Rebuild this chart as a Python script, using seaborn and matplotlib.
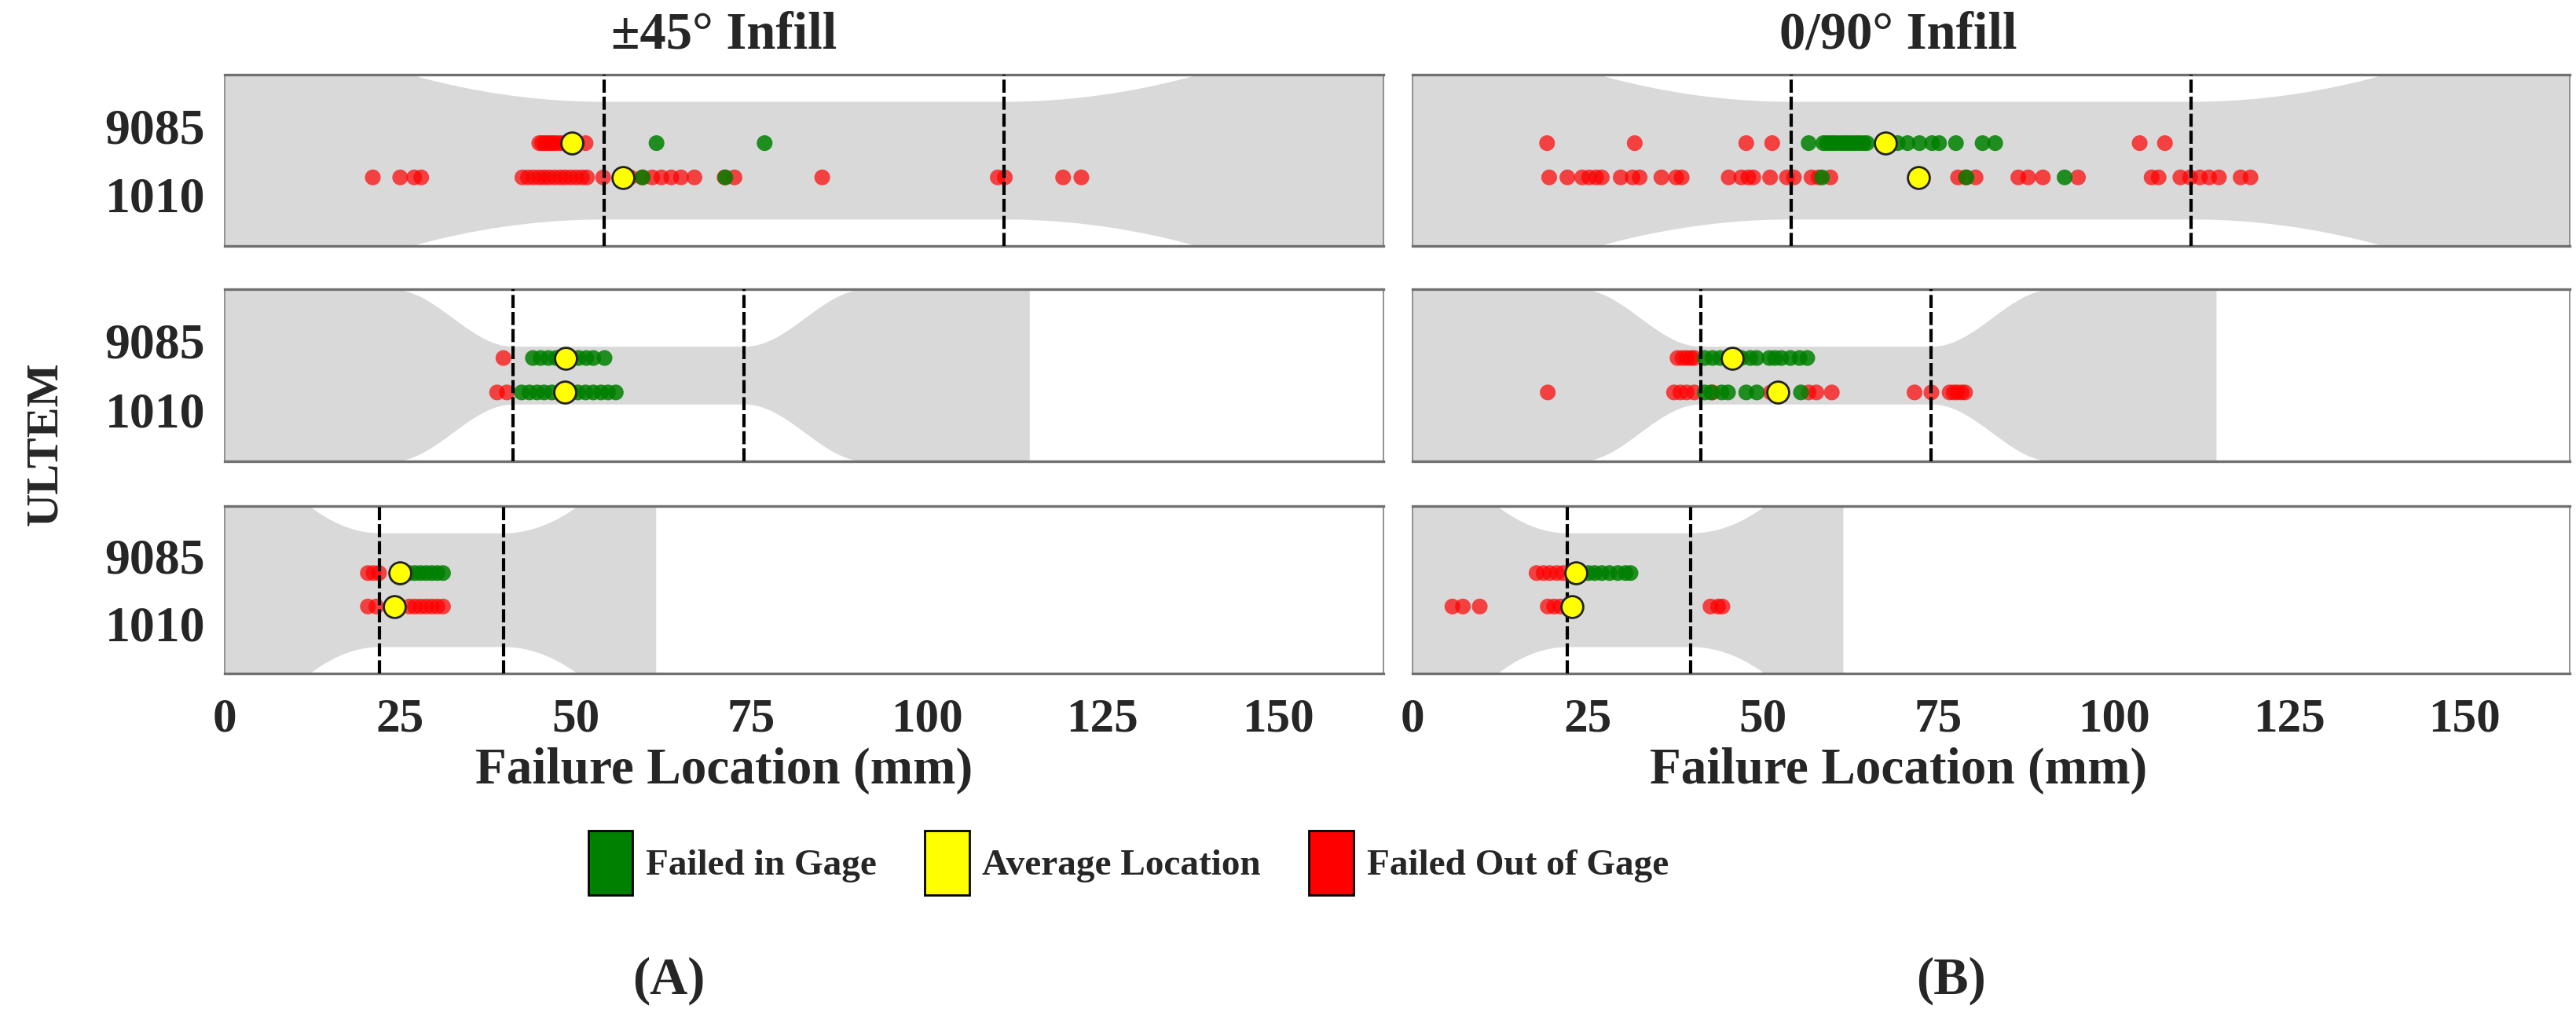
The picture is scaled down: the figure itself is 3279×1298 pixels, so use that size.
import numpy as np
import pandas as pd
import matplotlib
matplotlib.use("Agg")
import matplotlib.pyplot as plt
from matplotlib.patches import Patch
import seaborn as sns

# failure locations (mm)
# --- ±45° infill ---
p45_t1_9085_out = [44.8, 45.2, 45.6, 46.0, 46.3, 46.7, 47.0, 47.5, 48.0, 48.6, 49.3, 50.2, 51.4]
p45_t1_9085_in = [61.5, 76.9]
p45_t1_1010_out = [21.1, 25.0, 27.0, 28.0, 42.4, 43.2, 44.0, 44.8, 45.5, 46.2, 47.0, 47.8, 48.5,
                   49.3, 50.1, 50.9, 51.6, 53.9, 57.8, 59.5, 60.9, 62.2, 63.6, 65.0, 66.9, 71.2,
                   72.6, 85.1, 110.1, 111.1, 119.4, 122.0]
p45_t1_1010_in = [59.5, 71.3]
p45_t4_9085_out = [39.7]
p45_t4_9085_in = [43.9, 45.0, 46.1, 47.2, 48.2, 49.3, 50.4, 51.5, 52.5, 54.1]
p45_t4_1010_out = [38.8, 40.2]
p45_t4_1010_in = [42.3, 43.4, 44.5, 45.5, 46.6, 47.9, 49.3, 50.3, 51.4, 52.5, 53.6, 54.6, 55.7]
p45_t5_9085_out = [20.4, 21.2, 22.0]
p45_t5_9085_in = [25.5, 26.3, 27.1, 27.9, 28.7, 29.5, 30.3, 31.1]
p45_t5_1010_out = [20.4, 21.6, 26.3, 27.1, 27.9, 28.7, 29.5, 30.3, 31.1]
p45_t5_1010_in = []
p45_avg_9085 = [49.4, 48.6, 24.9]
p45_avg_1010 = [56.7, 48.4, 24.2]

# --- 0/90° infill ---
p90_t1_9085_out = [19.2, 31.7, 47.6, 51.3, 103.7, 107.3]
p90_t1_9085_in = [56.5, 58.6, 59.1, 59.6, 60.1, 60.6, 61.2, 61.7, 62.2, 62.7, 63.2, 63.7, 64.3,
                  64.8, 69.2, 70.6, 72.3, 74.1, 75.1, 77.5, 81.3, 83.1]
p90_t1_1010_out = [19.5, 22.1, 24.2, 25.2, 26.2, 27.0, 29.7, 31.4, 32.4, 35.5, 37.6, 38.4, 45.1,
                   46.9, 47.9, 48.6, 51.0, 53.4, 54.4, 56.9, 57.9, 59.6, 77.8, 78.9, 80.3, 86.4,
                   87.8, 89.9, 94.9, 105.4, 106.4, 109.5, 110.9, 112.3, 113.6, 115.0, 118.1, 119.5]
p90_t1_1010_in = [58.4, 79.0, 93.0]
p90_t4_9085_out = [37.8, 38.5, 39.1, 39.7, 40.2]
p90_t4_9085_in = [41.7, 42.8, 43.9, 45.2, 46.9, 48.2, 49.1, 50.9, 51.7, 52.6, 53.9, 55.2, 56.3]
p90_t4_1010_out = [19.3, 37.3, 38.2, 39.1, 40.2, 42.8, 51.1, 56.5, 57.6, 59.8, 71.6, 74.0, 76.6,
                   77.2, 77.7, 78.3, 78.8]
p90_t4_1010_in = [41.7, 42.6, 44.1, 45.0, 47.6, 49.1, 55.4]
p90_t5_9085_out = [17.7, 18.7, 19.6, 20.6, 21.5]
p90_t5_9085_in = [25.1, 26.0, 27.0, 28.1, 29.3, 30.4, 31.1]
p90_t5_1010_out = [5.7, 7.2, 9.6, 19.3, 20.2, 21.1, 42.5, 43.6, 44.2]
p90_t5_1010_in = []
p90_avg_9085 = [67.5, 45.6, 23.3]
p90_avg_1010 = [72.2, 52.1, 22.8]

# specimen outlines (mm): total length, grip end, gage start, gage end, grip start
specimens = ["Type I", "Type IV", "Type V"]
spec_length = [165.0, 114.6, 61.4]
spec_outline = [(26.5, 54.0, 111.0, 138.5), (23.8, 41.1, 74.0, 91.3), (12.1, 22.1, 39.7, 50.2)]
spec_narrow = [0.687, 0.336, 0.68]
spec_curve = ["arc", "s", "arc"]

materials = ["9085", "1010"]
infills = ["±45° Infill", "0/90° Infill"]
x_ticks = [0, 25, 50, 75, 100, 125, 150]

# tidy table for seaborn
rows = []
raw = {
    ("±45° Infill", 0): (p45_t1_9085_out, p45_t1_9085_in, p45_t1_1010_out, p45_t1_1010_in),
    ("±45° Infill", 1): (p45_t4_9085_out, p45_t4_9085_in, p45_t4_1010_out, p45_t4_1010_in),
    ("±45° Infill", 2): (p45_t5_9085_out, p45_t5_9085_in, p45_t5_1010_out, p45_t5_1010_in),
    ("0/90° Infill", 0): (p90_t1_9085_out, p90_t1_9085_in, p90_t1_1010_out, p90_t1_1010_in),
    ("0/90° Infill", 1): (p90_t4_9085_out, p90_t4_9085_in, p90_t4_1010_out, p90_t4_1010_in),
    ("0/90° Infill", 2): (p90_t5_9085_out, p90_t5_9085_in, p90_t5_1010_out, p90_t5_1010_in),
}
for (infill, r), (o9, i9, o1, i1) in raw.items():
    for mat, vals, res in [("9085", o9, "out"), ("9085", i9, "in"), ("1010", o1, "out"), ("1010", i1, "in")]:
        for v in vals:
            rows.append({"infill": infill, "spec": r, "material": mat, "loc": v, "result": res})
df = pd.DataFrame(rows)

avg_rows = []
for infill, a9, a1 in [("±45° Infill", p45_avg_9085, p45_avg_1010), ("0/90° Infill", p90_avg_9085, p90_avg_1010)]:
    for r in range(3):
        avg_rows.append({"infill": infill, "spec": r, "material": "9085", "loc": a9[r]})
        avg_rows.append({"infill": infill, "spec": r, "material": "1010", "loc": a1[r]})
df_avg = pd.DataFrame(avg_rows)

# point rows sit between the tick marks
MAT_Y = {"9085": 0.2, "1010": -0.2}
TICK_Y = [0.4, -0.4]
df["y"] = df["material"].map(MAT_Y)
df_avg["y"] = df_avg["material"].map(MAT_Y)


def half_width(x, outline, wn, curve):
    a, b, c, d = outline
    w = np.ones_like(x)
    w[(x >= b) & (x <= c)] = wn
    for lo, hi, flip in [(a, b, True), (c, d, False)]:
        m = (x > lo) & (x < hi)
        t = (hi - x[m]) / (hi - lo) if flip else (x[m] - lo) / (hi - lo)
        if curve == "arc":
            w[m] = wn + (1 - wn) * t ** 2
        else:
            w[m] = wn + (1 - wn) * (1 - np.cos(np.pi * t)) / 2
    return w


sns.set_style("white")
plt.rcParams["font.family"] = ["Liberation Serif", "DejaVu Serif"]
plt.rcParams["font.weight"] = "bold"

fig = plt.figure(figsize=(16.395, 6.49), dpi=200)

col_x = [0.0872, 0.5483]
col_w = [0.4498, 0.4492]
row_y = [0.7589, 0.5478, 0.3398]
row_h = [0.168, 0.1687, 0.164]

RED = "#ff0000"
GREEN = "#008000"
GREY = "#d9d9d9"

for ci, infill in enumerate(infills):
    for r in range(3):
        ax = fig.add_axes([col_x[ci], row_y[r], col_w[ci], row_h[r]])
        x = np.linspace(0, spec_length[r], 600)
        w = half_width(x, spec_outline[r], spec_narrow[r], spec_curve[r])
        ax.fill_between(x, -w, w, color=GREY, lw=0, zorder=0)

        sub = df[(df["infill"] == infill) & (df["spec"] == r)]
        red = sub[sub["result"] == "out"]
        grn = sub[sub["result"] == "in"]
        sns.scatterplot(data=red, x="loc", y="y", color=RED, alpha=0.7, s=52,
                        edgecolor="none", ax=ax, zorder=2, legend=False)
        if len(grn):
            sns.scatterplot(data=grn, x="loc", y="y", color=GREEN, alpha=0.85, s=52,
                            edgecolor="none", ax=ax, zorder=3, legend=False)

        _, b, c, _ = spec_outline[r]
        for gx in (b, c):
            ax.axvline(gx, color="black", lw=1.5, ls=(0, (4, 1.2)), zorder=4)

        av = df_avg[(df_avg["infill"] == infill) & (df_avg["spec"] == r)]
        sns.scatterplot(data=av, x="loc", y="y", color="#ffff00", s=100,
                        edgecolor="#222222", linewidth=1.0, ax=ax, zorder=5, legend=False)

        ax.set_xlim(0, 165)
        ax.set_ylim(-1, 1)
        ax.set_xticks(x_ticks)
        ax.set_yticks(TICK_Y)
        ax.set_xlabel("")
        ax.set_ylabel("")
        ax.tick_params(axis="both", length=4, width=1, color="#555555", direction="out")
        ax.tick_params(axis="y", pad=5, labelsize=23)
        ax.tick_params(axis="x", pad=7, labelsize=22)
        if ci == 0:
            ax.set_yticklabels(materials, fontweight="bold")
        else:
            ax.set_yticklabels([])
        if r == 2:
            ax.set_xticklabels([str(v) for v in x_ticks], fontweight="bold")
        else:
            ax.set_xticklabels([])
        for side in ["top", "bottom"]:
            ax.spines[side].set_color("#707070")
            ax.spines[side].set_linewidth(1.2)
        for side in ["left", "right"]:
            ax.spines[side].set_color("#808080")
            ax.spines[side].set_linewidth(0.6)

# titles and labels
fig.text(0.281, 0.965, infills[0], ha="center", va="center", fontsize=24, fontweight="bold")
fig.text(0.737, 0.965, infills[1], ha="center", va="center", fontsize=24, fontweight="bold")
fig.text(0.281, 0.244, "Failure Location (mm)", ha="center", va="center", fontsize=23.5, fontweight="bold")
fig.text(0.737, 0.244, "Failure Location (mm)", ha="center", va="center", fontsize=23.5, fontweight="bold")
fig.text(0.0177, 0.5647, "ULTEM", ha="center", va="center", rotation=90, fontsize=21, fontweight="bold")
fig.text(0.2595, 0.0385, "(A)", ha="center", va="center", fontsize=24, fontweight="bold")
fig.text(0.7575, 0.0385, "(B)", ha="center", va="center", fontsize=24, fontweight="bold")

handles = [Patch(facecolor=GREEN, edgecolor="black", label="Failed in Gage"),
           Patch(facecolor="#ffff00", edgecolor="black", label="Average Location"),
           Patch(facecolor=RED, edgecolor="black", label="Failed Out of Gage")]
fig.legend(handles=handles, loc="center", bbox_to_anchor=(0.438, 0.154), ncol=3, frameon=False,
           prop={"size": 17, "weight": "bold"}, handlelength=1.2, handleheight=2.3,
           handletextpad=0.35, columnspacing=1.3)

fig.savefig("out.png", dpi=200)
